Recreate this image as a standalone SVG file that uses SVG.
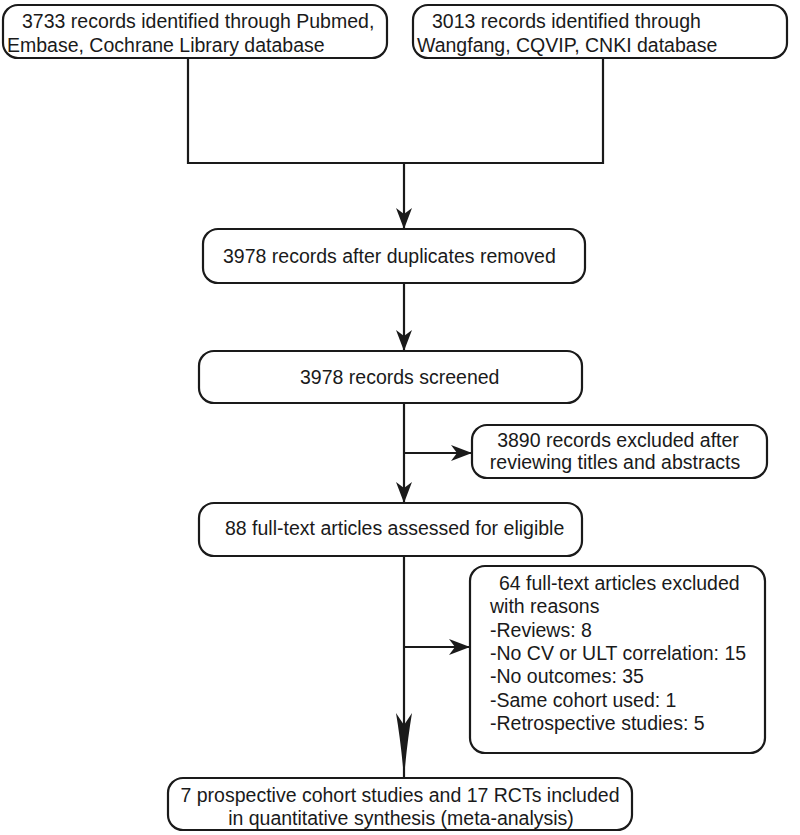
<svg xmlns="http://www.w3.org/2000/svg" width="800" height="835" viewBox="0 0 800 835">
<defs>
<style>
.box{fill:#fff;stroke:#1a1a1a;stroke-width:2.2}
.t{font-family:"Liberation Sans",Arial,sans-serif;font-size:19.5px;fill:#1a1a1a}
.c{fill:none;stroke:#1a1a1a;stroke-width:2.2}
</style>
<marker id="ah" markerUnits="userSpaceOnUse" markerWidth="22" markerHeight="16" viewBox="0 0 22 16" refX="21" refY="8" orient="auto">
<path d="M0,0 L21,8 L0,16 L6,8 Z" fill="#1a1a1a"/>
</marker>
<marker id="ahl" markerUnits="userSpaceOnUse" markerWidth="66" markerHeight="16" viewBox="0 0 66 16" refX="65" refY="8" orient="auto">
<path d="M0,0 Q30,5 65,8 Q30,11 0,16 L12,8 Z" fill="#1a1a1a"/>
</marker>
</defs>
<g id="connectors">
<polyline class="c" points="188,58 188,163 603,163 603,58"/>
<line class="c" x1="404" y1="163" x2="404" y2="229" marker-end="url(#ah)"/>
<line class="c" x1="404" y1="283" x2="404" y2="351" marker-end="url(#ah)"/>
<line class="c" x1="404" y1="403" x2="404" y2="503" marker-end="url(#ah)"/>
<line class="c" x1="404" y1="453" x2="472" y2="453" marker-end="url(#ah)"/>
<line class="c" x1="404" y1="556" x2="404" y2="778" marker-end="url(#ahl)"/>
<line class="c" x1="404" y1="647" x2="470" y2="647" marker-end="url(#ah)"/>
</g>
<g id="n1">
<rect class="box" x="3" y="5" width="384" height="53" rx="15"/>
<text class="t" x="22" y="28">3733 records identified through Pubmed,</text>
<text class="t" x="7" y="52">Embase, Cochrane Library database</text>
</g>
<g id="n2">
<rect class="box" x="413" y="5" width="374" height="53" rx="15"/>
<text class="t" x="432" y="28">3013 records identified through</text>
<text class="t" x="417" y="52">Wangfang, CQVIP, CNKI database</text>
</g>
<g id="n3">
<rect class="box" x="203" y="229" width="382" height="54" rx="15"/>
<text class="t" x="223" y="263">3978 records after duplicates removed</text>
</g>
<g id="n4">
<rect class="box" x="199" y="351" width="383" height="52" rx="15"/>
<text class="t" x="300" y="384">3978 records screened</text>
</g>
<g id="n5">
<rect class="box" x="472" y="425" width="295" height="53" rx="15"/>
<text class="t" x="618" y="447" text-anchor="middle">3890 records excluded after</text>
<text class="t" x="615" y="469" text-anchor="middle">reviewing titles and abstracts</text>
</g>
<g id="n6">
<rect class="box" x="199" y="503" width="383" height="53" rx="15"/>
<text class="t" x="225" y="535">88 full-text articles assessed for eligible</text>
</g>
<g id="n7">
<rect class="box" x="470" y="566" width="295" height="187" rx="15"/>
<text class="t" x="499" y="590">64 full-text articles excluded</text>
<text class="t" x="490" y="613">with reasons</text>
<text class="t" x="490" y="637">-Reviews: 8</text>
<text class="t" x="490" y="660">-No CV or ULT correlation: 15</text>
<text class="t" x="490" y="683">-No outcomes: 35</text>
<text class="t" x="490" y="707">-Same cohort used: 1</text>
<text class="t" x="490" y="730">-Retrospective studies: 5</text>
</g>
<g id="n8">
<rect class="box" x="168" y="778" width="464" height="52" rx="15"/>
<text class="t" x="400" y="802" text-anchor="middle">7 prospective cohort studies and 17 RCTs included</text>
<text class="t" x="401" y="825" text-anchor="middle">in quantitative synthesis (meta-analysis)</text>
</g>
</svg>
